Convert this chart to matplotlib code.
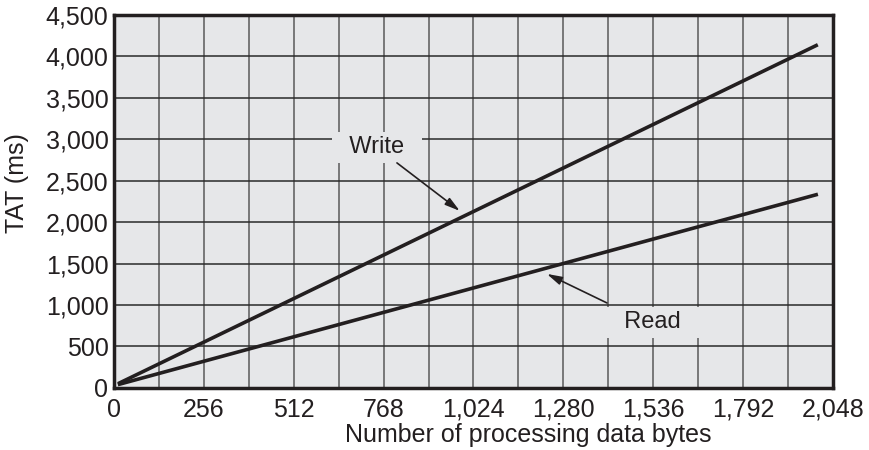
# TAT vs number of processing data bytes, write and read
import matplotlib
matplotlib.use("Agg")
import matplotlib.pyplot as plt
import numpy as np

plt.rcParams['font.family'] = ['Liberation Sans', 'DejaVu Sans']

# data
nbytes = [16, 2000]
write_tat = [60, 4130]
read_tat = [45, 2330]

x_ticks = [0, 256, 512, 768, 1024, 1280, 1536, 1792, 2048]
y_ticks = [0, 500, 1000, 1500, 2000, 2500, 3000, 3500, 4000, 4500]

ink = "#231f20"

fig = plt.figure(figsize=(8.7, 4.5), dpi=100)
ax = fig.add_axes([0.131, 0.138, 0.8265, 0.829])
ax.set_facecolor("#e6e7e9")

# grid: verticals every 128 bytes, horizontals every 500 ms
for xv in np.arange(128, 2048, 128):
    ax.axvline(xv, color="#5a5a5a", lw=1.1, zorder=1)
for yv in y_ticks[1:-1]:
    ax.axhline(yv, color="#2a2a2a", lw=1.1, zorder=1)

ax.plot(nbytes, write_tat, color=ink, lw=2.6, zorder=3)
ax.plot(nbytes, read_tat, color=ink, lw=2.6, zorder=3)

# labels with a background patch that cuts the grid
box = dict(boxstyle="square,pad=0.2", fc="#e6e7e9", ec="none")
ax.annotate("", xy=(985, 2135), xytext=(806, 2714),
            arrowprops=dict(arrowstyle="-|>,head_width=0.25,head_length=0.9",
                            color=ink, lw=1.2, shrinkA=0, shrinkB=0), zorder=4)
ax.annotate("", xy=(1233, 1375), xytext=(1404, 1025),
            arrowprops=dict(arrowstyle="-|>,head_width=0.25,head_length=0.9",
                            color=ink, lw=1.2, shrinkA=0, shrinkB=0), zorder=4)
ax.text(749, 2900, "  Write  ", ha="center", va="center", fontsize=17,
        color=ink, bbox=box, zorder=2)
ax.text(1535, 790, "  Read  ", ha="center", va="center", fontsize=17,
        color=ink, bbox=box, zorder=2)

ax.set_xlim(0, 2048)
ax.set_ylim(0, 4500)
ax.set_xticks(x_ticks)
ax.set_xticklabels([f"{v:,}" for v in x_ticks])
ax.set_yticks(y_ticks)
ax.set_yticklabels([f"{v:,}" for v in y_ticks])
ax.tick_params(length=0, labelsize=18, colors=ink)
ax.tick_params(axis="x", pad=7)
ax.tick_params(axis="y", pad=4)

for s in ax.spines.values():
    s.set_linewidth(2.5)
    s.set_color(ink)

# axis titles placed where they sit in the original
fig.text(528 / 870, 1 - 435 / 450, "Number of processing data bytes",
         fontsize=18, color=ink, ha="center", va="center")
fig.text(17 / 870, 1 - 183 / 450, "TAT (ms)", fontsize=18, color=ink,
         ha="center", va="center", rotation=90)

fig.savefig("out.png", dpi=100)
